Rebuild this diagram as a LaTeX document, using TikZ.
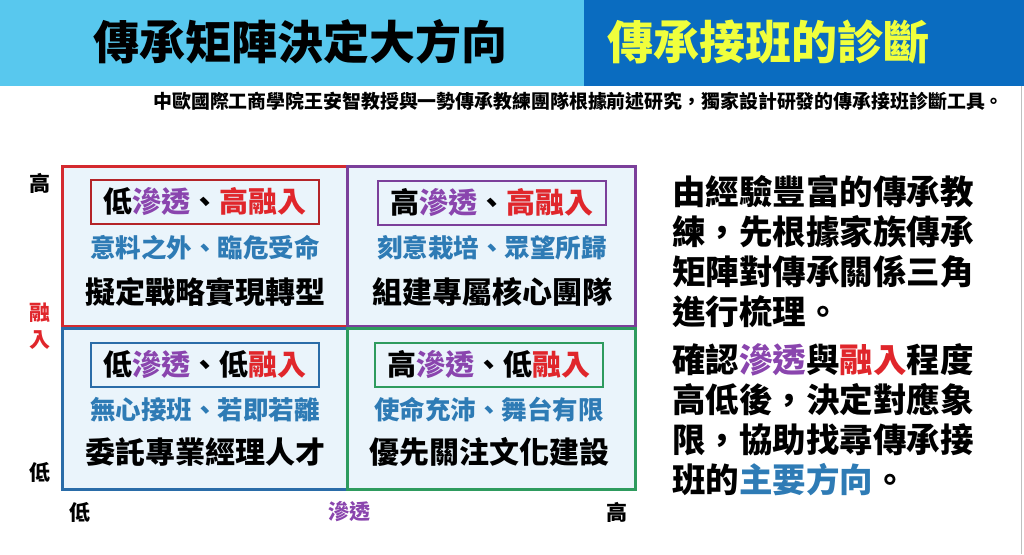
\documentclass[tikz,border=0pt]{standalone}
\usepackage{fontspec}
\setmainfont{Noto Sans CJK TC}
\definecolor{bandL}{HTML}{58C8EE}
\definecolor{bandR}{HTML}{0A6CC0}
\definecolor{ttlY}{HTML}{F0FF3C}
\definecolor{qfill}{HTML}{EAF4FB}
\definecolor{cRed}{HTML}{D42A2F}
\definecolor{cPur}{HTML}{7B3F9A}
\definecolor{cBlu}{HTML}{2A6CA8}
\definecolor{cGrn}{HTML}{2E9B5E}
\definecolor{tBlu}{HTML}{2E7BB5}
\definecolor{tPur}{HTML}{8A45AE}
\definecolor{tRed}{HTML}{E0262B}
\newcommand{\pur}[1]{\textcolor{tPur}{#1}}
\newcommand{\rd}[1]{\textcolor{tRed}{#1}}
\newcommand{\bl}[1]{\textcolor{tBlu}{#1}}
\tikzset{
  quad/.style={line width=3pt, fill=qfill},
  lbox/.style={line width=1.1pt, minimum width=228pt, minimum height=44pt, inner sep=0pt, text=black, font=\fontsize{29}{32}\selectfont\bfseries},
  subl/.style={inner sep=0pt, text=tBlu, font=\fontsize{25.5}{28}\selectfont\bfseries},
  mainl/.style={inner sep=0pt, text=black, font=\fontsize{30}{33}\selectfont\bfseries},
  axl/.style={inner sep=0pt, font=\fontsize{21}{23}\selectfont\bfseries},
  para/.style={inner sep=0pt, anchor=west, font=\fontsize{33.5}{38}\selectfont\bfseries},
}
\begin{document}
\begin{tikzpicture}[x=1pt,y=-1pt]
\useasboundingbox (0,0) rectangle (1024,554);
\fill[white] (0,0) rectangle (1024,554);
% header
\fill[bandL] (0,0) rectangle (584,86);
\fill[bandR] (584,0) rectangle (1024,86);
\node[inner sep=0pt, font=\fontsize{46}{50}\selectfont\bfseries] (t1) at (300,42) {傳承矩陣決定大方向};
\node[inner sep=0pt, text=ttlY, font=\fontsize{46}{50}\selectfont\bfseries] (t2) at (768,42) {傳承接班的診斷};
\node[inner sep=0pt, anchor=east, font=\fontsize{18.9}{21}\selectfont\bfseries] (sub) at (1004,101) {中歐國際工商學院王安智教授與一勢傳承教練團隊根據前述研究，獨家設計研發的傳承接班診斷工具。};
\draw[black!25, line width=0.8pt] (1021,86) -- (1021,554);
% quadrants
\draw[quad, draw=cRed] (62,166) rectangle (347,326);
\draw[quad, draw=cPur] (347,166) rectangle (635,326);
\draw[quad, draw=cBlu] (62,328) rectangle (347,489);
\draw[quad, draw=cGrn] (347,328) rectangle (635,489);
% TL
\node[lbox, draw=cRed!85!black] (l1) at (205,202) {低\pur{滲透}、\rd{高融入}};
\node[subl] (s1) at (205,248) {意料之外、臨危受命};
\node[mainl] (m1) at (205,292) {擬定戰略實現轉型};
% TR
\node[lbox, draw=cPur] (l2) at (492,203) {高\pur{滲透}、\rd{高融入}};
\node[subl] (s2) at (492,248) {刻意栽培、眾望所歸};
\node[mainl] (m2) at (492,292) {組建專屬核心團隊};
% BL
\node[lbox, draw=cBlu] (l3) at (205,365) {低\pur{滲透}、低\rd{融入}};
\node[subl] (s3) at (205,410) {無心接班、若即若離};
\node[mainl] (m3) at (205,452) {委託專業經理人才};
% BR
\node[lbox, draw=cGrn] (l4) at (489,365) {高\pur{滲透}、低\rd{融入}};
\node[subl] (s4) at (489,410) {使命充沛、舞台有限};
\node[mainl] (m4) at (489,452) {優先關注文化建設};
% axes
\node[axl] (yh) at (40,183) {高};
\node[axl, text=tRed] (yr1) at (40,313) {融};
\node[axl, text=tRed] (yr2) at (40,340) {入};
\node[axl] (yl) at (40,472) {低};
\node[axl] (xl) at (80,512) {低};
\node[axl, text=tPur] (xm) at (349,512) {滲透};
\node[axl] (xh) at (617,512) {高};
% right text
\node[para] (p1) at (672,192) {由經驗豐富的傳承教};
\node[para] (p2) at (672,232) {練，先根據家族傳承};
\node[para] (p3) at (672,272) {矩陣對傳承關係三角};
\node[para] (p4) at (672,312) {進行梳理。};
\node[para] (p5) at (672,360) {確認\pur{滲透}與\rd{融入}程度};
\node[para] (p6) at (672,400) {高低後，決定對應象};
\node[para] (p7) at (672,440) {限，協助找尋傳承接};
\node[para] (p8) at (672,480) {班的\bl{主要方向}。};
\end{tikzpicture}
\end{document}
